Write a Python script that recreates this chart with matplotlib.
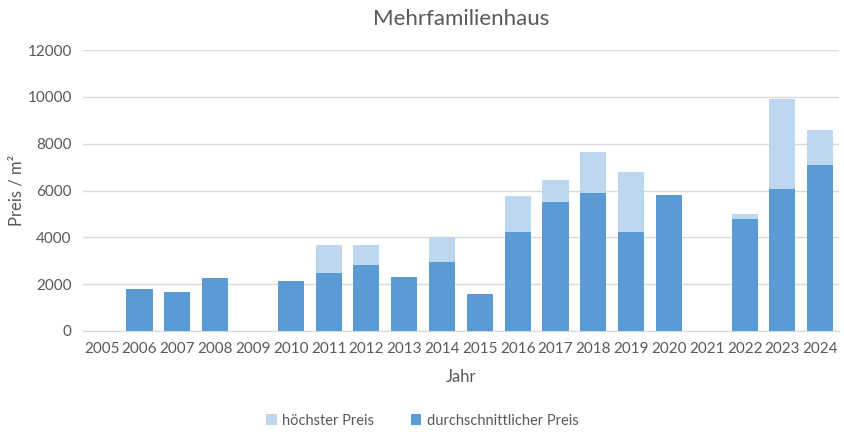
import matplotlib
matplotlib.use("Agg")
import matplotlib.pyplot as plt
import numpy as np

plt.rcParams['font.family'] = ['Lato', 'DejaVu Sans']

# data
years = [str(y) for y in range(2005, 2025)]
hoechster = [0, 1800, 1680, 2270, 0, 2140, 3680, 3680, 2310, 4000,
             1580, 5780, 6450, 7650, 6800, 5810, 0, 5000, 9920, 8600]
durchschnitt = [0, 1800, 1680, 2270, 0, 2140, 2480, 2820, 2310, 2950,
                1580, 4230, 5510, 5900, 4230, 5810, 0, 4780, 6070, 7100]

light = '#BDD7EE'
dark = '#5B9BD5'
grey = '#595959'

fig = plt.figure(figsize=(8.45, 4.32), dpi=100)
ax = fig.add_axes([0.098, 0.234, 0.895, 0.65])

x = np.arange(len(years))
ax.bar(x, hoechster, width=0.69, color=light, label='höchster Preis', zorder=2)
ax.bar(x, durchschnitt, width=0.69, color=dark, label='durchschnittlicher Preis', zorder=3)

ax.set_xlim(-0.5, len(years) - 0.5)
ax.set_ylim(0, 12000)
ax.set_yticks(range(0, 12001, 2000))
ax.set_xticks(x)
ax.set_xticklabels(years)
ax.yaxis.grid(True, color='#D9D9D9', linewidth=1, zorder=0)
ax.set_axisbelow(True)
for s in ['top', 'right', 'left']:
    ax.spines[s].set_visible(False)
ax.spines['bottom'].set_color('#D9D9D9')
ax.tick_params(axis='both', length=0, labelsize=11, colors=grey, pad=8)

ax.set_xlabel('Jahr', fontsize=12, color=grey, labelpad=9)
ax.set_ylabel('Preis / m²', fontsize=12, color=grey)
ax.yaxis.set_label_coords(-0.077, 0.5)
ax.set_title('Mehrfamilienhaus', fontsize=16, color=grey, pad=18)

fig.legend(loc='lower center', bbox_to_anchor=(0.5, -0.02), ncol=2, frameon=False,
           fontsize=10.5, labelcolor=grey, handlelength=0.7, handleheight=0.7,
           columnspacing=2.5, handletextpad=0.4)

fig.savefig('out.png', dpi=100)
